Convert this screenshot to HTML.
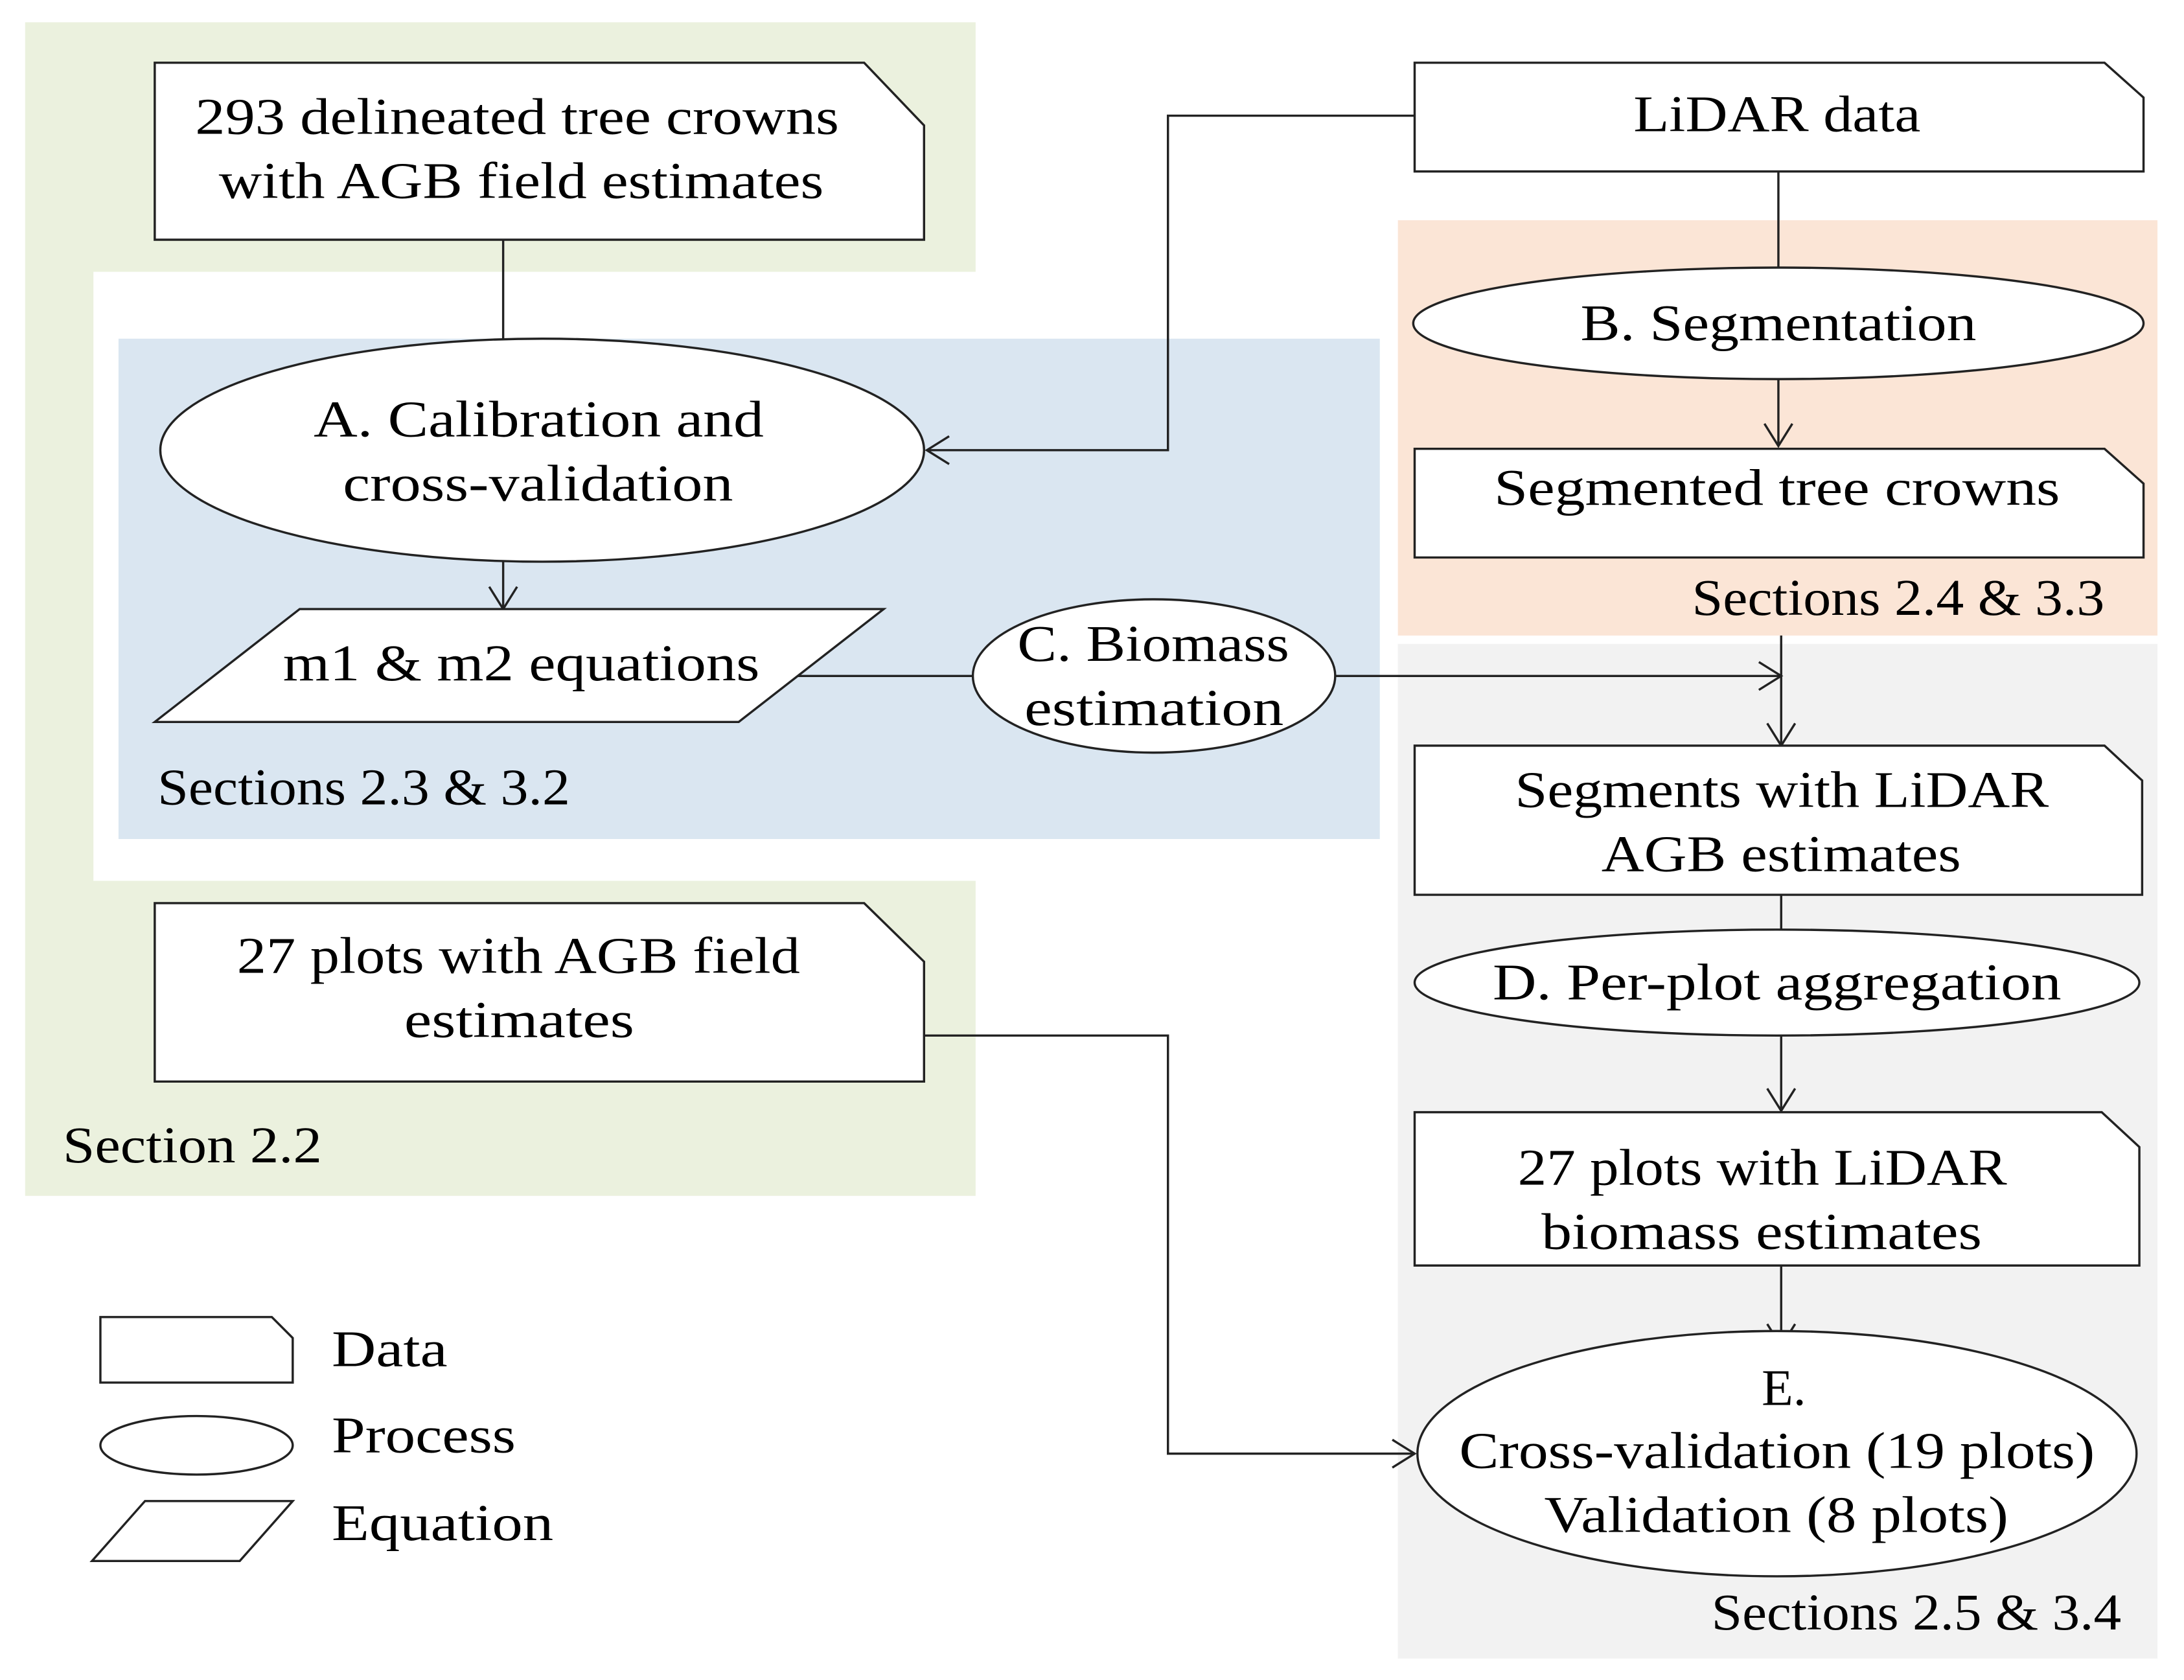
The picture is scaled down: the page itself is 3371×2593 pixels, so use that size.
<!DOCTYPE html>
<html><head><meta charset="utf-8"><style>html,body{margin:0;padding:0;background:#fff}svg{display:block}</style></head>
<body>
<svg width="3371" height="2593" viewBox="0 0 1567 1205.4" xmlns="http://www.w3.org/2000/svg" font-family="'Liberation Serif',serif" font-size="37" fill="#000">
<defs><marker id="a" markerWidth="24" markerHeight="24" refX="20" refY="12" orient="auto" markerUnits="userSpaceOnUse"><path d="M4,2 L20,12 L4,22" fill="none" stroke="#222" stroke-width="1.6"/></marker></defs>
<rect x="0" y="0" width="1567" height="1206" fill="#fff"/>
<path d="M18,16 H700 V195 H67 V632 H700 V858 H18 Z" fill="#ebf1de"/>
<rect x="85" y="243" width="905" height="359" fill="#dae6f1"/>
<rect x="1003" y="158" width="545" height="298" fill="#fbe5d6"/>
<rect x="1003" y="462" width="545" height="728" fill="#f2f2f2"/>
<g stroke="#222" stroke-width="1.6" fill="none">
<line x1="361" y1="172" x2="361" y2="243"/>
<line x1="361" y1="403" x2="361" y2="437" marker-end="url(#a)"/>
<polyline points="1015,83 838,83 838,323 665,323" marker-end="url(#a)"/>
<line x1="1276" y1="123" x2="1276" y2="192"/>
<line x1="1276" y1="272" x2="1276" y2="320" marker-end="url(#a)"/>
<line x1="1278" y1="456" x2="1278" y2="535" marker-end="url(#a)"/>
<line x1="565" y1="485" x2="698" y2="485"/>
<line x1="958" y1="485" x2="1278" y2="485" marker-end="url(#a)"/>
<line x1="1278" y1="642" x2="1278" y2="667"/>
<line x1="1278" y1="743" x2="1278" y2="797" marker-end="url(#a)"/>
<line x1="1278" y1="908" x2="1278" y2="966" marker-end="url(#a)"/>
<polyline points="663,743 838,743 838,1043 1015,1043" marker-end="url(#a)"/>
</g>
<g stroke="#222" stroke-width="1.6" fill="#fff">
<path d="M111,45 H620 L663,90 V172 H111 Z"/>
<ellipse cx="389" cy="323" rx="274" ry="80"/>
<path d="M111,518 L215,437 H634 L530,518 Z"/>
<ellipse cx="828" cy="485" rx="130" ry="55"/>
<path d="M1015,45 H1510 L1538,70 V123 H1015 Z"/>
<ellipse cx="1276" cy="232" rx="262" ry="40"/>
<path d="M1015,322 H1510 L1538,347 V400 H1015 Z"/>
<path d="M1015,535 H1510 L1537,560 V642 H1015 Z"/>
<ellipse cx="1275" cy="705" rx="260" ry="38"/>
<path d="M1015,798 H1508 L1535,823 V908 H1015 Z"/>
<ellipse cx="1275" cy="1043" rx="258" ry="88"/>
<path d="M111,648 H620 L663,690 V776 H111 Z"/>
<path d="M72,945 H195 L210,960 V992 H72 Z"/>
<ellipse cx="141" cy="1037" rx="69" ry="21"/>
<path d="M66,1120 L104,1077 H210 L172,1120 Z"/>
</g>
<g dominant-baseline="central" lengthAdjust="spacingAndGlyphs">
<text x="140" y="84" textLength="462" lengthAdjust="spacingAndGlyphs">293 delineated tree crowns</text>
<text x="157" y="130" textLength="434" lengthAdjust="spacingAndGlyphs">with AGB field estimates</text>
<text x="225" y="301" textLength="323" lengthAdjust="spacingAndGlyphs">A. Calibration and</text>
<text x="246" y="347" textLength="280" lengthAdjust="spacingAndGlyphs">cross-validation</text>
<text x="203" y="476" textLength="342" lengthAdjust="spacingAndGlyphs">m1 &amp; m2 equations</text>
<text x="730" y="462" textLength="195" lengthAdjust="spacingAndGlyphs">C. Biomass</text>
<text x="735" y="508" textLength="186" lengthAdjust="spacingAndGlyphs">estimation</text>
<text x="1172" y="82" textLength="206" lengthAdjust="spacingAndGlyphs">LiDAR data</text>
<text x="1134" y="232" textLength="284" lengthAdjust="spacingAndGlyphs">B. Segmentation</text>
<text x="1072" y="350" textLength="406" lengthAdjust="spacingAndGlyphs">Segmented tree crowns</text>
<text x="1214" y="429" textLength="296" lengthAdjust="spacingAndGlyphs">Sections 2.4 &amp; 3.3</text>
<text x="1087" y="567" textLength="383" lengthAdjust="spacingAndGlyphs">Segments with LiDAR</text>
<text x="1149" y="613" textLength="258" lengthAdjust="spacingAndGlyphs">AGB estimates</text>
<text x="1071" y="705" textLength="408" lengthAdjust="spacingAndGlyphs">D. Per-plot aggregation</text>
<text x="1089" y="838" textLength="351" lengthAdjust="spacingAndGlyphs">27 plots with LiDAR</text>
<text x="1106" y="884" textLength="316" lengthAdjust="spacingAndGlyphs">biomass estimates</text>
<text x="1264" y="996">E.</text>
<text x="1047" y="1041" textLength="456" lengthAdjust="spacingAndGlyphs">Cross-validation (19 plots)</text>
<text x="1108" y="1087" textLength="333" lengthAdjust="spacingAndGlyphs">Validation (8 plots)</text>
<text x="1228" y="1157" textLength="294" lengthAdjust="spacingAndGlyphs">Sections 2.5 &amp; 3.4</text>
<text x="170" y="686" textLength="404" lengthAdjust="spacingAndGlyphs">27 plots with AGB field</text>
<text x="290" y="732" textLength="165" lengthAdjust="spacingAndGlyphs">estimates</text>
<text x="113" y="565" textLength="296" lengthAdjust="spacingAndGlyphs">Sections 2.3 &amp; 3.2</text>
<text x="45" y="822" textLength="186" lengthAdjust="spacingAndGlyphs">Section 2.2</text>
<text x="238" y="968" textLength="83" lengthAdjust="spacingAndGlyphs">Data</text>
<text x="238" y="1030" textLength="132" lengthAdjust="spacingAndGlyphs">Process</text>
<text x="238" y="1093" textLength="159" lengthAdjust="spacingAndGlyphs">Equation</text>
</g>
</svg>
</body></html>
